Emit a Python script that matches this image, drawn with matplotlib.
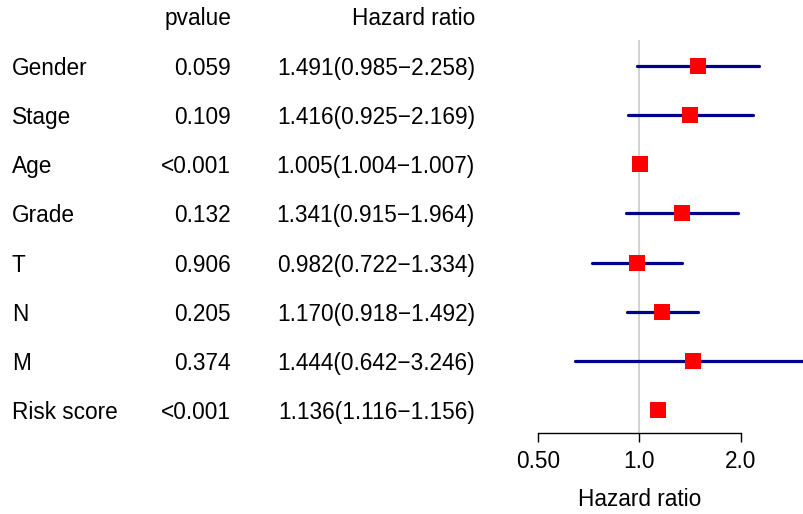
import matplotlib
matplotlib.use('Agg')
import matplotlib.pyplot as plt
from matplotlib.transforms import blended_transform_factory

plt.rcParams['font.family'] = ['Liberation Sans', 'DejaVu Sans']

variables = ['Gender', 'Stage', 'Age', 'Grade', 'T', 'N', 'M', 'Risk score']
pvalues = ['0.059', '0.109', '<0.001', '0.132', '0.906', '0.205', '0.374', '<0.001']
hr = [1.491, 1.416, 1.005, 1.341, 0.982, 1.170, 1.444, 1.136]
hr_low = [0.985, 0.925, 1.004, 0.915, 0.722, 0.918, 0.642, 1.116]
hr_high = [2.258, 2.169, 1.007, 1.964, 1.334, 1.492, 3.246, 1.156]
xticks = [0.5, 1.0, 2.0]
xtick_labels = ['0.50', '1.0', '2.0']

W, H = 804, 514
fig = plt.figure(figsize=(W / 100, H / 100), dpi=100)

# plot panel: 0.5 at x=538px, 2.0 at x=741px, axis line at y=433px
left, right, top, bottom = 538, 804, 40, 433
ax = fig.add_axes([left / W, 1 - bottom / H, (right - left) / W, (bottom - top) / H])
ax.set_xscale('log')
px_per_doubling = (741 - 538) / 2
ax.set_xlim(0.5, 0.5 * 2 ** ((right - left) / px_per_doubling))
ax.set_ylim(len(variables) - 1 + 0.46, -0.52)

rows = list(range(len(variables)))

ax.axvline(1.0, color='#cfcfcf', lw=1.3, zorder=1)
for y, lo, hi in zip(rows, hr_low, hr_high):
    ax.plot([lo, hi], [y, y], color='#00008B', lw=2.3, solid_capstyle='round', zorder=2)
ax.plot(hr, rows, 's', color='red', ms=12, mew=0, zorder=3)

for s in ['left', 'top', 'right']:
    ax.spines[s].set_visible(False)
ax.spines['bottom'].set_bounds(xticks[0], xticks[-1])
ax.spines['bottom'].set_linewidth(1.0)
ax.set_yticks([])
ax.set_xticks(xticks)
ax.set_xticklabels(xtick_labels)
ax.minorticks_off()
ax.tick_params(axis='x', length=6.5, width=1.0, pad=6, labelsize=16.3)

# text columns
tr = blended_transform_factory(fig.transFigure, ax.transData)
fs = 16.3
ax.text(231 / W, -1, 'pvalue', ha='right', va='center_baseline', fontsize=fs, transform=tr, clip_on=False)
ax.text(475 / W, -1, 'Hazard ratio', ha='right', va='center_baseline', fontsize=fs, transform=tr, clip_on=False)
for y, name, p, h, lo, hi in zip(rows, variables, pvalues, hr, hr_low, hr_high):
    ax.text(12 / W, y, name, ha='left', va='center_baseline', fontsize=fs, transform=tr, clip_on=False)
    ax.text(231 / W, y, p, ha='right', va='center_baseline', fontsize=fs, transform=tr, clip_on=False)
    ax.text(475 / W, y, f'{h:.3f}({lo:.3f}\u2212{hi:.3f})', ha='right', va='center_baseline',
            fontsize=fs, transform=tr, clip_on=False)

tr2 = blended_transform_factory(ax.transData, fig.transFigure)
ax.text(1.0, 1 - 497 / H, 'Hazard ratio', ha='center', va='center_baseline', fontsize=fs, transform=tr2)

fig.savefig('out.png', dpi=100)
